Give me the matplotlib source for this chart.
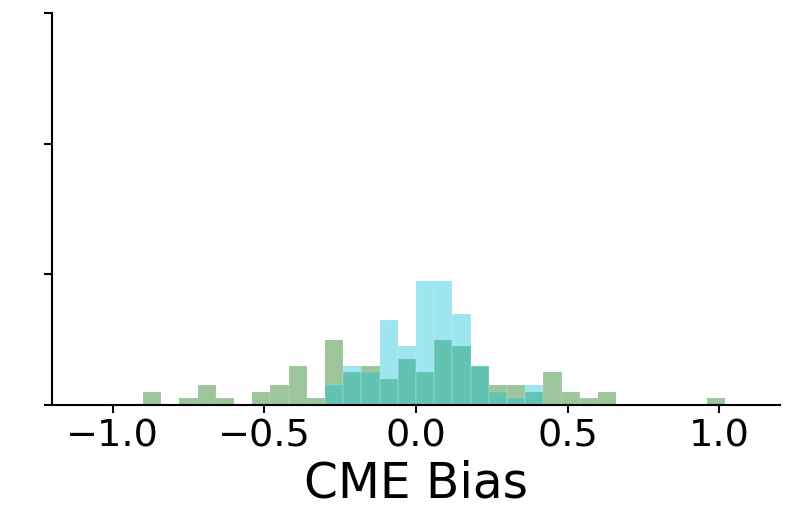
import matplotlib
matplotlib.use('Agg')
import matplotlib.pyplot as plt
import numpy as np

# bin edges (width 0.06) and counts
bin_lo = -0.90
bin_w = 0.06
n_bins = 32

green_counts = [2, 0, 1, 3, 1, 0, 2, 3, 6, 1, 10, 5, 6, 4, 7, 5,
                10, 9, 6, 3, 3, 2, 5, 2, 1, 2, 0, 0, 0, 0, 0, 1]
cyan_counts = [0, 0, 0, 0, 0, 0, 0, 0, 0, 0, 3, 6, 5, 13, 9, 19,
               19, 14, 6, 2, 1, 3, 0, 0, 0, 0, 0, 0, 0, 0, 0, 0]

edges = bin_lo + bin_w * np.arange(n_bins + 1)
centers = (edges[:-1] + edges[1:]) / 2

fig = plt.figure(figsize=(7.94, 5.27), dpi=100)
ax = fig.add_axes([0.0655, 0.2315, 0.917, 0.7435])

ax.hist(centers, bins=edges, weights=green_counts, color='#0a6e05', alpha=0.4,
        edgecolor='white', linewidth=0.25)
ax.hist(centers, bins=edges, weights=cyan_counts, color='#0ac0d9', alpha=0.4,
        edgecolor='white', linewidth=0.25)

ax.set_xlim(-1.2, 1.2)
ax.set_ylim(0, 60)
ax.set_xticks([-1.0, -0.5, 0.0, 0.5, 1.0])
ax.set_yticks([0, 20, 40, 60])
ax.set_yticklabels([])
ax.tick_params(axis='x', labelsize=27.5, length=6, width=1.5)
ax.tick_params(axis='y', length=6, width=1.5)
ax.set_xlabel('CME Bias', fontsize=35)

for s in ['top', 'right']:
    ax.spines[s].set_visible(False)
for s in ['left', 'bottom']:
    ax.spines[s].set_linewidth(1.5)

fig.savefig('out.png', dpi=100)
